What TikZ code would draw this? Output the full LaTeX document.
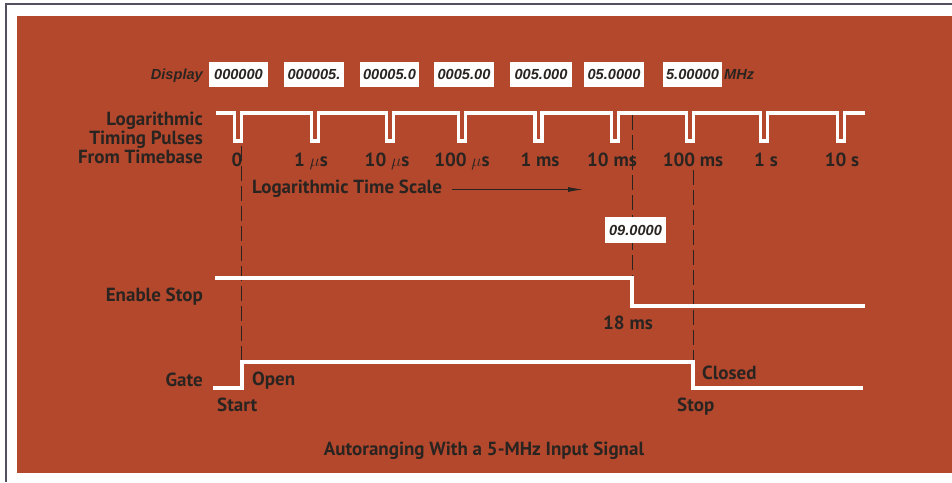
\documentclass[tikz,border=0pt]{standalone}
\usepackage{fontspec}
\setmainfont{PT Sans}
\newfontfamily\dispfont{Liberation Sans}
\usetikzlibrary{arrows.meta}
\definecolor{bg}{HTML}{B4482D}
\definecolor{ink}{HTML}{2A2421}
\definecolor{framecol}{HTML}{555060}
\begin{document}
\begin{tikzpicture}[x=1pt,y=-1pt,
  lbl/.style={text=ink,inner sep=0,font=\fontsize{19}{21}\selectfont\bfseries},
  tick/.style={lbl,anchor=base},
  disp/.style={fill=white,text=ink,inner sep=0,minimum height=25,
     font=\dispfont\fontsize{14.6}{16}\selectfont\bfseries\itshape},
  dlbl/.style={text=ink,inner sep=0,font=\dispfont\fontsize{14.6}{16}\selectfont\bfseries\itshape},
  sig/.style={draw=white,line width=3.6},
  vline/.style={draw=ink,line width=0.9,dash pattern=on 15 off 5}]
\useasboundingbox (0,0) rectangle (952,482);
\fill[white] (0,0) rectangle (952,482);
\fill[bg] (17,16) rectangle (952,473);
\draw[framecol,line width=1.4] (6,482) -- (6,4) -- (952,4);

% display row
\node[dlbl,anchor=base east] (dl) at (203,79) {Display};
\node[disp,minimum width=59] (d1) at (238.5,74.5) {000000};
\node[disp,minimum width=60] (d2) at (314,74.5) {000005.};
\node[disp,minimum width=59] (d3) at (389.5,74.5) {00005.0};
\node[disp,minimum width=60] (d4) at (464,74.5) {0005.00};
\node[disp,minimum width=62] (d5) at (541,74.5) {005.000};
\node[disp,minimum width=60] (d6) at (614,74.5) {05.0000};
\node[disp,minimum width=59] (d7) at (692.5,74.5) {5.00000};
\node[dlbl,anchor=base west] (mhz) at (724,79) {MHz};

% left labels
\node[lbl,anchor=base east] (l1) at (203,125) {Logarithmic};
\node[lbl,anchor=base east] (l2) at (203,144) {Timing Pulses};
\node[lbl,anchor=base east] (l3) at (203,163) {From Timebase};
\node[lbl,anchor=base east] (les) at (203,301) {Enable Stop};
\node[lbl,anchor=base east] (lg) at (203,386) {Gate};

% dashed verticals
\coordinate (s0) at (241,146);
\coordinate (s1) at (241,362);
\coordinate (e0) at (632,115);
\coordinate (e1) at (632,278);
\coordinate (c0) at (693,170);
\coordinate (c1) at (693,362);
\draw[vline] (s0) -- (s1);
\draw[vline] (e0) -- (e1);
\draw[vline] (c0) -- (c1);

% pulse train
\draw[sig] (216,113)
  \foreach \c in {238,315,390,462,538.5,615,690,764,841}
  { -- (\c-3.5,113) -- (\c-3.5,141) -- (\c+3.5,141) -- (\c+3.5,113) }
  -- (865,113);

% tick labels
\node[tick] (t0) at (237,166) {0};
\node[tick] (t1) at (311,166) {1 $\mu$s};
\node[tick] (t2) at (387,166) {10 $\mu$s};
\node[tick] (t3) at (462,166) {100 $\mu$s};
\node[tick] (t4) at (540,166) {1 ms};
\node[tick] (t5) at (612,166) {10 ms};
\node[tick] (t6) at (693,166) {100 ms};
\node[tick] (t7) at (766,166) {1 s};
\node[tick] (t8) at (842,166) {10 s};

% time scale
\node[lbl,anchor=base west] (lts) at (252,193) {Logarithmic Time Scale};
\coordinate (a0) at (452,189.5);
\coordinate (a1) at (583,189.5);
\draw[ink,line width=0.9,-{Latex[length=15,width=5]}] (a0) -- (a1);

% 09.0000 box
\node[disp,minimum width=61,minimum height=26] (d9) at (635.5,230) {09.0000};

% enable stop
\draw[sig] (215,278) -- (632,278) -- (632,306) -- (865,306);
\node[tick] (t18) at (628,329) {18 ms};

% gate
\draw[sig] (213,388) -- (242,388) -- (242,362) -- (693,362) -- (693,388) -- (863,388);
\node[lbl,anchor=base west] (lo) at (252,385) {Open};
\node[lbl,anchor=base west] (lst) at (217,411) {Start};
\node[lbl,anchor=base west] (lc) at (702,379) {Closed};
\node[lbl,anchor=base west] (lsp) at (677,411) {Stop};

% caption
\node[lbl,anchor=base] (cap) at (484,455) {Autoranging With a 5-MHz Input Signal};
\end{tikzpicture}
\end{document}
